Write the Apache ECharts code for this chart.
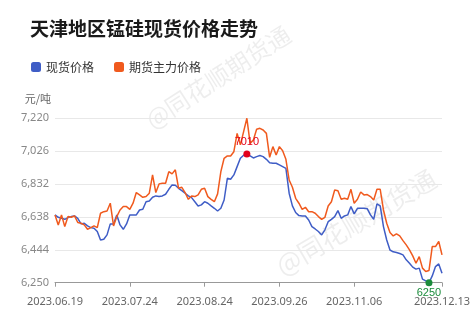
<!DOCTYPE html>
<html><head><meta charset="utf-8">
<script src="https://cdn.jsdelivr.net/npm/echarts@6/dist/echarts.min.js"></script>
<style>html,body{margin:0;padding:0;background:#fff}#c{width:474px;height:322px}</style>
</head><body><div id="c"></div>
<script>
var dates = [
"2023.06.19","2023.06.20","2023.06.21","2023.06.26","2023.06.27","2023.06.28","2023.06.29","2023.06.30",
"2023.07.03","2023.07.04","2023.07.05","2023.07.06","2023.07.07","2023.07.10","2023.07.11","2023.07.12","2023.07.13","2023.07.14",
"2023.07.17","2023.07.18","2023.07.19","2023.07.20","2023.07.21","2023.07.24","2023.07.25","2023.07.26","2023.07.27","2023.07.28","2023.07.31",
"2023.08.01","2023.08.02","2023.08.03","2023.08.04","2023.08.07","2023.08.08","2023.08.09","2023.08.10","2023.08.11",
"2023.08.14","2023.08.15","2023.08.16","2023.08.17","2023.08.18","2023.08.21","2023.08.22","2023.08.23","2023.08.24","2023.08.25",
"2023.08.28","2023.08.29","2023.08.30","2023.08.31",
"2023.09.01","2023.09.04","2023.09.05","2023.09.06","2023.09.07","2023.09.08","2023.09.11","2023.09.12","2023.09.13","2023.09.14","2023.09.15",
"2023.09.18","2023.09.19","2023.09.20","2023.09.21","2023.09.22","2023.09.25","2023.09.26","2023.09.27","2023.09.28",
"2023.10.09","2023.10.10","2023.10.11","2023.10.12","2023.10.13","2023.10.16","2023.10.17","2023.10.18","2023.10.19","2023.10.20",
"2023.10.23","2023.10.24","2023.10.25","2023.10.26","2023.10.27","2023.10.30","2023.10.31",
"2023.11.01","2023.11.02","2023.11.03","2023.11.06","2023.11.07","2023.11.08","2023.11.09","2023.11.10",
"2023.11.13","2023.11.14","2023.11.15","2023.11.16","2023.11.17","2023.11.20","2023.11.21","2023.11.22","2023.11.23","2023.11.24",
"2023.11.27","2023.11.28","2023.11.29","2023.11.30",
"2023.12.01","2023.12.04","2023.12.05","2023.12.06","2023.12.07","2023.12.08","2023.12.11","2023.12.12","2023.12.13"
];
var spotPrice = [
6650,6636,6630,6624,6634,6640,6644,6630,6597,6601,6585,6575,6571,6552,6502,6506,6532,6597,6597,6650,
6591,6565,6597,6650,6650,6650,6679,6683,6728,6732,6754,6762,6758,
6762,6772,6801,6827,6825,6807,6793,6778,6762,6752,6728,6703,6709,6728,6719,6703,6689,6673,6689,6738,
6866,6860,6886,6935,6984,7002,7010,6998,6986,6994,7000,6994,6978,6958,6955,6955,6945,6935,6925,
6778,6703,6664,6646,6644,6644,6620,
6581,6567,6552,6532,6562,6610,6624,6640,6675,6630,6644,6650,6699,6656,6689,6689,6689,6687,6650,6624,
6715,6703,6581,6502,6443,6432,6428,6422,6414,6385,6365,6342,6330,6336,6271,6261,6250,6290,6345,6361,6306
];
var futuresPrice = [
6650,6591,6650,6581,6640,6636,6644,6605,6601,6591,6565,6575,6585,6575,6660,6669,6673,6719,6585,6640,
6679,6699,6699,6683,6719,6782,6768,6754,6758,6778,6886,6782,6833,
6837,6837,6905,6892,6916,6807,6813,6782,6742,6762,6758,6768,6801,6807,6758,6742,6728,6774,6905,6984,
6998,6998,7023,7131,7063,7141,7220,7072,7092,7155,7161,7151,7131,6990,7053,7004,7053,7029,6978,
6856,6813,6748,6719,6683,6695,6669,
6669,6660,6640,6624,6636,6703,6728,6797,6793,6742,6748,6742,6801,6719,6742,6785,6768,6770,6758,6738,
6801,6801,6679,6601,6546,6526,6538,6526,6498,6473,6444,6408,6365,6404,6336,6316,6322,6463,6463,6493,6414
];
var labelIdx = [0, 23, 46, 69, 92, 119];
var seriesNames = ["现货价格", "期货主力价格"];

var chart = echarts.init(document.getElementById('c'));
function showIdx(i){ return labelIdx.indexOf(i) >= 0; }
var wmStyle = { text: '@同花顺期货通', fill: 'rgba(0,0,0,0.07)', fontFamily: 'Noto Sans CJK SC',
  textAlign: 'left', textVerticalAlign: 'middle' };
chart.setOption({
  animation: false,
  backgroundColor: '#fff',
  title: { text: '天津地区锰硅现货价格走势', left: 25, top: 14,
    textStyle: { fontSize: 19, fontWeight: 'bold', color: '#1a1a1a', fontFamily: 'Noto Sans CJK SC' } },
  legend: { left: 26, top: 56, itemWidth: 10, itemHeight: 10, itemGap: 20, icon: 'roundRect',
    textStyle: { fontSize: 12, color: '#333', fontFamily: 'Noto Sans CJK SC' },
    data: seriesNames },
  graphic: [
    { type: 'text', x: 148, y: 122, rotation: 0.57, silent: true, z: 0,
      style: Object.assign({}, wmStyle, { fontSize: 24 }) },
    { type: 'text', x: 278, y: 268, rotation: 0.53, silent: true, z: 0,
      style: Object.assign({}, wmStyle, { fontSize: 26 }) }
  ],
  grid: { left: 55, right: 32, top: 118.3, bottom: 39.3 },
  xAxis: {
    type: 'category', boundaryGap: false, data: dates,
    axisLine: { lineStyle: { color: '#999' } },
    axisTick: { interval: function(i){ return showIdx(i); }, length: 4, lineStyle: { color: '#999' } },
    axisLabel: { interval: function(i){ return showIdx(i); }, color: '#666', fontSize: 11, margin: 14,
      fontFamily: 'Noto Sans' },
    splitLine: { show: false }
  },
  yAxis: {
    type: 'value', min: 6250, max: 7220, interval: 194,
    name: '元/吨', nameLocation: 'end', nameGap: 14,
    nameTextStyle: { color: '#666', fontSize: 11, align: 'right', padding: [0, 4, 0, 0], fontFamily: 'Noto Sans CJK SC' },
    axisLine: { show: false }, axisTick: { show: false },
    axisLabel: { color: '#888', fontSize: 11, margin: 6, fontFamily: 'Noto Sans',
      formatter: function(v){ return v.toLocaleString('en-US'); } },
    splitLine: { lineStyle: { color: '#e8e8e8' } }
  },
  series: [
    { name: seriesNames[0], type: 'line', data: spotPrice, showSymbol: false,
      lineStyle: { width: 1.5, color: '#3f5dc6' }, itemStyle: { color: '#3f5dc6' },
      markPoint: {
        symbol: 'circle', symbolSize: 7,
        data: [
          { type: 'max', itemStyle: { color: '#e3001b' },
            label: { show: true, position: 'top', distance: 3, color: '#e3001b', fontSize: 11, formatter: '{c}' } },
          { type: 'min', itemStyle: { color: '#1b8c3c' },
            label: { show: true, position: 'bottom', distance: 1, color: '#1b8c3c', fontSize: 11, formatter: '{c}' } }
        ]
      }
    },
    { name: seriesNames[1], type: 'line', data: futuresPrice, showSymbol: false,
      lineStyle: { width: 1.5, color: '#f05a1e' }, itemStyle: { color: '#f05a1e' } }
  ]
});
</script>
</body></html>
